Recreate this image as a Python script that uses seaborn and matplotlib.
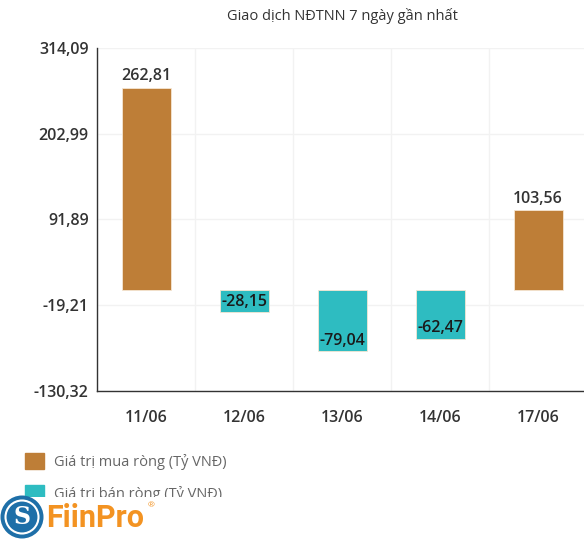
import numpy as np
import pandas as pd
import matplotlib.pyplot as plt
import matplotlib.patches as mpatches
import seaborn as sns

# Data ------------------------------------------------------------------------
dates = ['11/06', '12/06', '13/06', '14/06', '17/06']
net_values = [262.81, -28.15, -79.04, -62.47, 103.56]
y_ticks = [-130.32, -19.21, 91.89, 202.99, 314.09]
buy_label = 'Giá trị mua ròng (Tỷ VNĐ)'
sell_label = 'Giá trị bán ròng (Tỷ VNĐ)'
title = 'Giao dịch NĐTNN 7 ngày gần nhất'

buy_color = '#BE7E37'
sell_color = '#2EBCC1'

df = pd.DataFrame({'date': dates, 'value': net_values})
df['type'] = np.where(df['value'] >= 0, buy_label, sell_label)

# Plot ------------------------------------------------------------------------
sns.set_style('white')
plt.rcParams['font.family'] = ['Open Sans', 'DejaVu Sans']

fig = plt.figure(figsize=(5.84, 5.41), dpi=100)
ax = fig.add_axes([97 / 584, 1 - 391 / 541, 490 / 584, 343 / 541])

sns.barplot(data=df, x='date', y='value', hue='type',
            hue_order=[buy_label, sell_label],
            palette={buy_label: buy_color, sell_label: sell_color},
            saturation=1, dodge=False, width=0.5, ax=ax, legend=False,
            edgecolor='#f5e6d3', linewidth=0.6)

# value labels
for i, v in enumerate(net_values):
    txt = f'{v:.2f}'.replace('.', ',')
    if v >= 0:
        ax.text(i, v + 5, txt, ha='center', va='bottom', fontsize=11.5,
                color='#333333', fontweight='semibold')
    else:
        ax.text(i, v + 3, txt, ha='center', va='bottom', fontsize=11.5,
                color='#1a1a1a', fontweight='semibold')

ax.set_ylim(y_ticks[0], y_ticks[-1])
ax.set_xlim(-0.5, len(dates) - 0.5)
ax.set_yticks(y_ticks)
ax.set_yticklabels([f'{t:.2f}'.replace('.', ',') for t in y_ticks],
                   fontsize=11.5, color='#333333', fontweight='semibold')
ax.set_xticks(range(len(dates)))
ax.set_xticklabels(dates, fontsize=11.5, color='#333333', fontweight='semibold')
ax.tick_params(axis='x', length=0, pad=14)
ax.tick_params(axis='y', length=4, width=1, color='#333333', pad=2, direction='out')
ax.set_xticks(np.arange(-0.5, len(dates) - 0.5, 1), minor=True)
ax.tick_params(axis='x', which='minor', length=6, width=1, color='#333333')
ax.set_xlabel('')
ax.set_ylabel('')

# grid
ax.grid(axis='y', color='#f2f2f2', linewidth=1)
ax.grid(axis='x', which='minor', color='#f2f2f2', linewidth=1)
ax.set_axisbelow(True)

for side in ['top', 'right']:
    ax.spines[side].set_visible(False)
for side in ['left', 'bottom']:
    ax.spines[side].set_color('#333333')
    ax.spines[side].set_linewidth(1)

fig.text(342 / 584, 1 - 16 / 541, title, ha='center', va='center',
         fontsize=10.5, color='#333333')

# legend
handles = [mpatches.Patch(facecolor=buy_color, edgecolor=buy_color),
           mpatches.Patch(facecolor=sell_color, edgecolor=sell_color)]
leg = fig.legend(handles, [buy_label, sell_label], loc='upper left',
                 bbox_to_anchor=(12 / 584, 1 - 440 / 541), frameon=False,
                 fontsize=10.5, labelcolor='#666666', handlelength=1.3,
                 handleheight=1.3, labelspacing=1.05, handletextpad=0.7)

# logo band covering the bottom of the legend
fig.patches.append(mpatches.Rectangle((0, 0), 270 / 584, 44 / 541,
                                      transform=fig.transFigure,
                                      facecolor='white', edgecolor='none',
                                      zorder=10))
fig.patches.append(mpatches.Ellipse((22 / 584, 1 - 517 / 541), 43 / 584, 43 / 541,
                                    transform=fig.transFigure,
                                    facecolor='#1E6FA8', edgecolor='none',
                                    zorder=11))
fig.patches.append(mpatches.Ellipse((22 / 584, 1 - 517 / 541), 33 / 584, 33 / 541,
                                    transform=fig.transFigure,
                                    facecolor='none', edgecolor='white',
                                    linewidth=1.5, zorder=12))
fig.text(22 / 584, 1 - 517 / 541, 'S', ha='center', va='center',
         fontsize=17, color='white', fontweight='bold', zorder=13,
         family='DejaVu Serif')
fig.text(46 / 584, 1 - 518 / 541, 'FiinPro', ha='left', va='center',
         fontsize=22, color='#F39322', fontweight='bold', zorder=13,
         family=['Roboto', 'DejaVu Sans'])
fig.text(148 / 584, 1 - 506 / 541, '®', ha='left', va='center',
         fontsize=6, color='#F39322', zorder=13)

fig.savefig('out.png', dpi=100)
